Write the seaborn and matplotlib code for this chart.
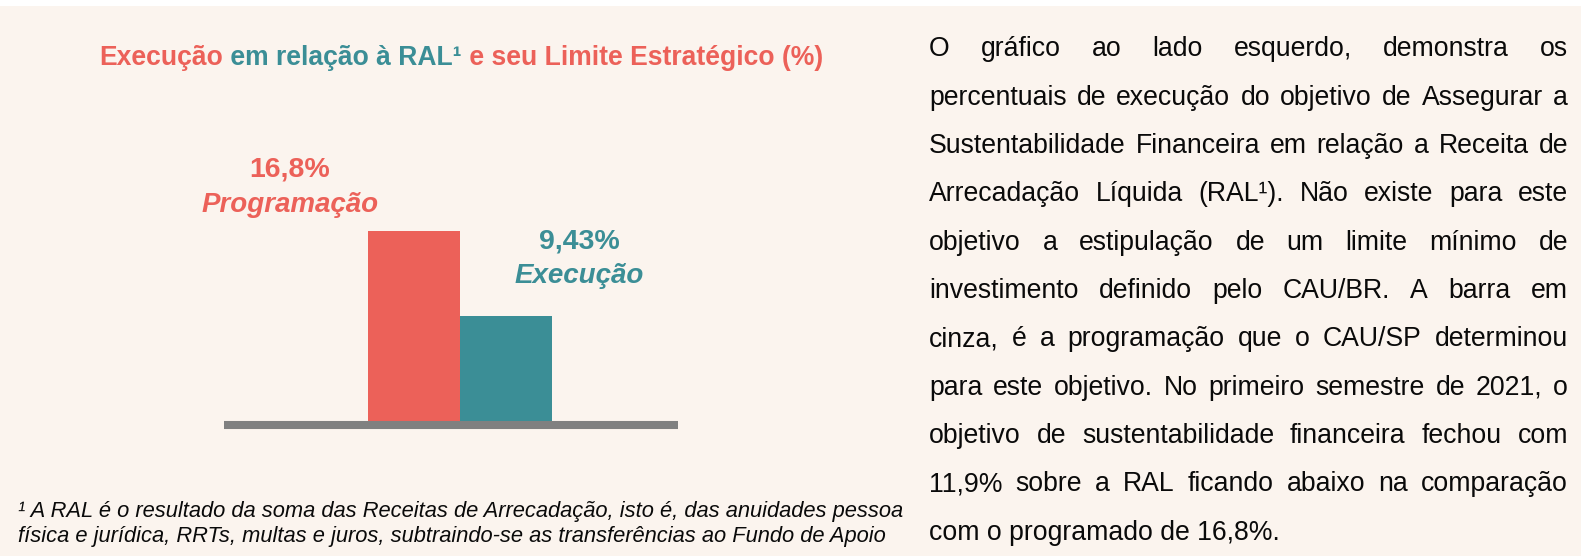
import matplotlib
matplotlib.use("Agg")
import matplotlib.pyplot as plt
from matplotlib.patches import Rectangle
import seaborn as sns

# data
categories = ["Programação", "Execução"]
values = [16.8, 9.43]
value_labels = ["16,8%", "9,43%"]

title_parts = ["Execução", " em relação à RAL¹", " e seu Limite Estratégico (%)"]

body_lines = [
    "O gráfico ao lado esquerdo, demonstra os",
    "percentuais de execução do objetivo de Assegurar a",
    "Sustentabilidade Financeira em relação a Receita de",
    "Arrecadação Líquida (RAL¹). Não existe para este",
    "objetivo a estipulação de um limite mínimo de",
    "investimento definido pelo CAU/BR. A barra em",
    "cinza, é a programação que o CAU/SP determinou",
    "para este objetivo. No primeiro semestre de 2021, o",
    "objetivo de sustentabilidade financeira fechou com",
    "11,9% sobre a RAL ficando abaixo na comparação",
    "com o programado de 16,8%.",
]

footnote_lines = [
    "¹ A RAL é o resultado da soma das Receitas de Arrecadação, isto é, das anuidades pessoa",
    "física e jurídica, RRTs, multas e juros, subtraindo-se as transferências ao Fundo de Apoio",
]

RED = "#EC6159"
TEAL = "#3B8E96"
GREY = "#808080"
BG = "#FBF4EE"

sns.set_theme(style="white")
plt.rcParams["font.family"] = ["Liberation Sans", "DejaVu Sans"]

W, H = 1581, 556
fig = plt.figure(figsize=(W / 100, H / 100), dpi=100, facecolor=BG)
fig.patches.append(Rectangle((0, 1 - 6 / H), 1, 6 / H, transform=fig.transFigure,
                             facecolor="white", edgecolor="none"))


def fx(px):
    return px / W


def fy(py):
    return 1 - py / H


renderer = fig.canvas.get_renderer()


def text_width(s, **kw):
    t = fig.text(0, 0, s, **kw)
    w = t.get_window_extent(renderer).width
    t.remove()
    return w


# bars
ax = fig.add_axes([fx(224), 131 / H, fx(454), 231 / H])
ax.set_facecolor("none")
sns.barplot(x=categories, y=values, hue=categories, palette=[RED, TEAL],
            width=1.0, saturation=1, legend=False, linewidth=0, ax=ax)
ax.set_xlim(-2.065, 2.87)
ax.set_ylim(0, 20)
ax.set_xticks([])
ax.set_yticks([])
ax.set_xlabel("")
ax.set_ylabel("")
for s in ["top", "left", "right"]:
    ax.spines[s].set_visible(False)
ax.spines["bottom"].set_color(GREY)
ax.spines["bottom"].set_linewidth(5.8)
ax.spines["bottom"].set_capstyle("butt")

# bar labels
label_pos = [(-1.35, 21.5, 18.45), (1.80, 15.25, 12.3)]
for (x, y1, y2), lab, cat, col in zip(label_pos, value_labels, categories, [RED, TEAL]):
    ax.text(x, y1, lab, ha="center", va="baseline", color=col,
            fontsize=20.5, fontweight="bold", clip_on=False)
    ax.text(x, y2, cat, ha="center", va="baseline", color=col,
            fontsize=20, fontweight="bold", fontstyle="italic", clip_on=False)

# title in three colours
tkw = dict(fontsize=19.1, fontweight="bold")
full = "".join(title_parts)
total = text_width(full, **tkw)
x0 = 461 - total / 2
for i, (part, col) in enumerate(zip(title_parts, [RED, TEAL, RED])):
    off = text_width("".join(title_parts[:i]), **tkw) if i else 0
    fig.text(fx(x0 + off), fy(65), part, color=col, ha="left", va="baseline", **tkw)

# justified paragraph
bkw = dict(fontsize=19.2, color="#0a0a0a")
left, right = 929, 1568
for i, line in enumerate(body_lines):
    yb = 56.5 + i * 48.3
    if i == len(body_lines) - 1:
        fig.text(fx(left), fy(yb), line, ha="left", va="baseline", **bkw)
        continue
    words = line.split(" ")
    widths = [text_width(w, **bkw) for w in words]
    gap = (right - left - sum(widths)) / (len(words) - 1)
    x = left
    for w, ww in zip(words, widths):
        fig.text(fx(x), fy(yb), w, ha="left", va="baseline", **bkw)
        x += ww + gap

# footnote
for i, line in enumerate(footnote_lines):
    fig.text(fx(18), fy(517 + i * 25), line, ha="left", va="baseline",
             fontsize=15.75, fontstyle="italic", color="#0a0a0a")

fig.savefig("out.png", dpi=100, facecolor=BG)
